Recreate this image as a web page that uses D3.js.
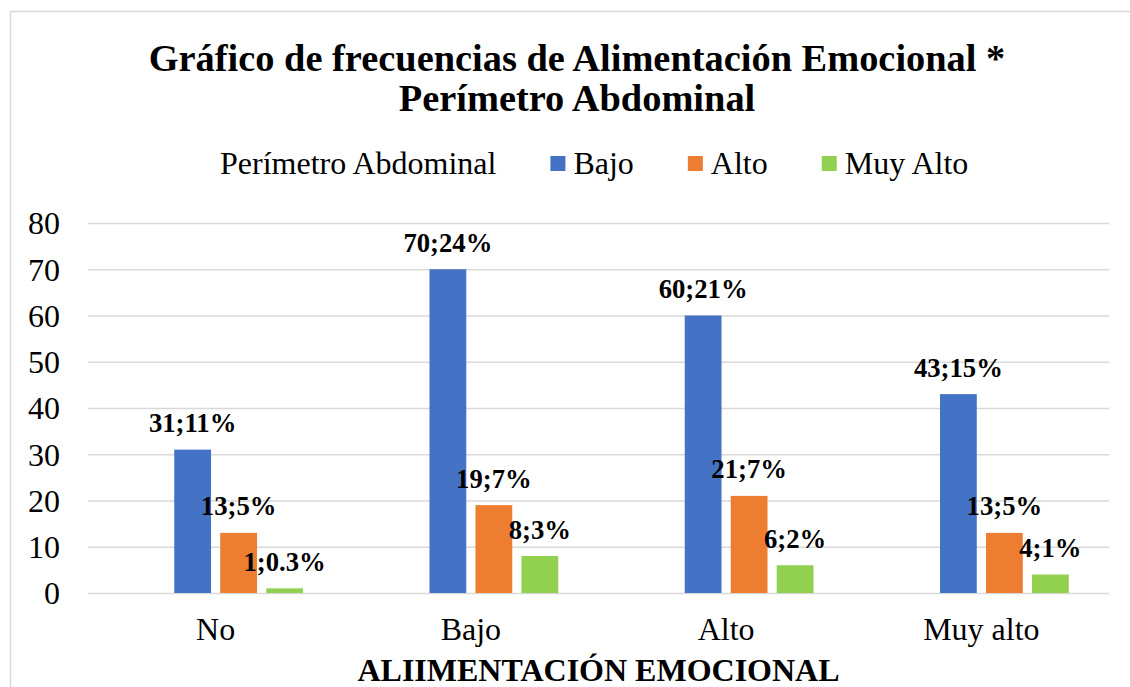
<!DOCTYPE html>
<html>
<head>
<meta charset="utf-8">
<script src="https://cdn.jsdelivr.net/npm/d3@7"></script>
<style>
  html, body { margin: 0; padding: 0; background: #fff; }
  svg { display: block; }
  text { font-family: "Liberation Serif", "Times New Roman", serif; fill: #000; }
</style>
</head>
<body>
<svg id="chart" width="1130" height="687"></svg>
<script>
// ---- data ----
const categories = ["No", "Bajo", "Alto", "Muy alto"];
const seriesNames = ["Perímetro Abdominal", "Bajo", "Alto", "Muy Alto"];
const bajoValues = [31, 70, 60, 43];
const altoValues = [13, 19, 21, 13];
const muyAltoValues = [1, 8, 6, 4];
const bajoPct = ["11%", "24%", "21%", "15%"];
const altoPct = ["5%", "7%", "7%", "5%"];
const muyAltoPct = ["0.3%", "3%", "2%", "1%"];
const yTicks = [0, 10, 20, 30, 40, 50, 60, 70, 80];
const titleLines = ["Gráfico de frecuencias de Alimentación Emocional *", "Perímetro Abdominal"];
const xAxisTitle = "ALIIMENTACIÓN EMOCIONAL";

// ---- build table ----
const series = [
  { name: seriesNames[0], color: "none", values: [], pct: [] },
  { name: seriesNames[1], color: "#4472C4", values: bajoValues, pct: bajoPct },
  { name: seriesNames[2], color: "#ED7D31", values: altoValues, pct: altoPct },
  { name: seriesNames[3], color: "#92D050", values: muyAltoValues, pct: muyAltoPct }
];
const rows = [];
series.forEach(s => s.values.forEach((v, i) => rows.push({ cat: categories[i], series: s.name, color: s.color, value: v, label: v + ";" + s.pct[i] })));

const svg = d3.select("#chart");

// chart border
svg.append("rect").attr("x", 10.5).attr("y", 11.5).attr("width", 1140).attr("height", 700)
  .attr("fill", "#fff").attr("stroke", "#D9D9D9").attr("stroke-width", 1.5);

const plot = { left: 88, right: 1109, top: 223, bottom: 593 };

const x0 = d3.scaleBand().domain(categories).range([plot.left, plot.right]).paddingInner(0).paddingOuter(0);
const x1 = d3.scaleBand().domain(seriesNames).range([0, x0.bandwidth()]).paddingInner(0.2).paddingOuter(0.875);
const y = d3.scaleLinear().domain([0, 80]).range([plot.bottom, plot.top]);

// gridlines
const yAxis = d3.axisLeft(y).tickValues(yTicks).tickSize(-(plot.right - plot.left)).tickPadding(28).tickFormat(d3.format("d"));
const gy = svg.append("g").attr("transform", `translate(${plot.left},0)`).call(yAxis);
gy.select(".domain").remove();
gy.selectAll(".tick line").attr("stroke", "#D9D9D9").attr("stroke-width", 1.5);
gy.selectAll(".tick text").attr("font-size", "32px").attr("font-family", "Liberation Serif").attr("fill", "#000").attr("dy", "0.34em");

// bars
svg.append("g").selectAll("rect").data(rows).join("rect")
  .attr("x", d => x0(d.cat) + x1(d.series))
  .attr("width", x1.bandwidth())
  .attr("y", d => y(d.value))
  .attr("height", d => y(0) - y(d.value))
  .attr("fill", d => d.color);

// data labels
svg.append("g").selectAll("text").data(rows).join("text")
  .attr("x", d => x0(d.cat) + x1(d.series) + x1.bandwidth() / 2)
  .attr("y", d => y(d.value) - 17.5)
  .attr("text-anchor", "middle")
  .attr("font-size", "26.7px")
  .attr("font-weight", "bold")
  .text(d => d.label);

// x axis labels
const xAxis = d3.axisBottom(x0).tickSize(0).tickPadding(0);
const gx = svg.append("g").attr("transform", `translate(0,${plot.bottom})`).call(xAxis);
gx.select(".domain").remove();
gx.selectAll(".tick text").attr("font-size", "32px").attr("font-family", "Liberation Serif").attr("fill", "#000")
  .attr("dy", 0).attr("y", 47);

// x axis title
svg.append("text").attr("x", (plot.left + plot.right) / 2).attr("y", 681)
  .attr("text-anchor", "middle").attr("font-size", "32px").attr("font-weight", "bold").text(xAxisTitle);

// title
const title = svg.append("text").attr("text-anchor", "middle").attr("font-size", "38.4px").attr("font-weight", "bold");
titleLines.forEach((t, i) => title.append("tspan").attr("x", 577).attr("y", 71 + i * 40).text(t));

// legend
const legend = svg.append("g");
let lx = 197;
series.forEach(s => {
  legend.append("rect").attr("x", lx).attr("y", 156).attr("width", 15).attr("height", 15).attr("fill", s.color);
  const t = legend.append("text").attr("x", lx + 23).attr("y", 174).attr("font-size", "32px").text(s.name);
  lx += 23 + t.node().getComputedTextLength() + 54;
});
</script>
</body>
</html>
